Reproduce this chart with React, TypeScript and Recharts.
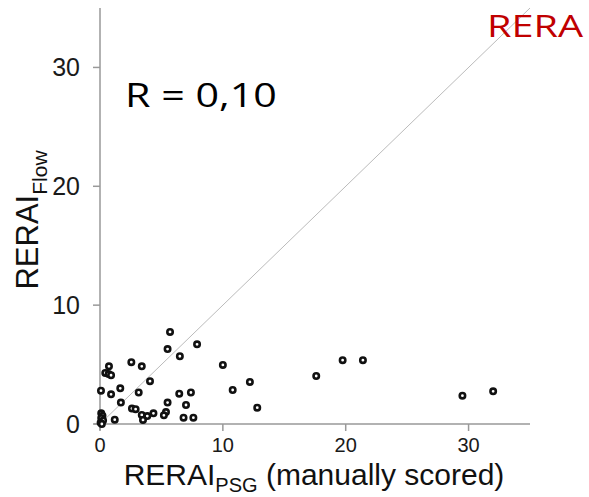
import { ScatterChart, Scatter, XAxis, YAxis, ReferenceLine, Label } from 'recharts';

// RERAI from PSG (manually scored) vs RERAI from flow
const rerPsg = [
  5.7, 5.5, 7.9, 6.5, 2.55, 3.4, 0.73, 0.43, 0.7, 0.9, 4.07, 1.65, 0.08, 0.9, 3.15, 6.45, 7.4,
  1.7, 5.5, 7.0, 2.6, 2.9, 4.35, 5.37, 5.2, 3.4, 3.85, 3.5, 1.2, 6.8, 7.6,
  0.1, 0.2, 0.1, 0.25, 0.05, 0.15,
  10.0, 10.8, 12.2, 12.8, 17.6, 19.75, 21.4, 29.5, 32.0,
];
const rerFlow = [
  7.75, 6.3, 6.7, 5.7, 5.2, 4.85, 4.85, 4.3, 4.2, 4.1, 3.6, 3.0, 2.8, 2.5, 2.65, 2.55, 2.65,
  1.8, 1.8, 1.6, 1.3, 1.25, 0.9, 1.0, 0.73, 0.76, 0.67, 0.34, 0.36, 0.53, 0.53,
  0.9, 0.7, 0.5, 0.3, 0.1, 0.0,
  4.97, 2.86, 3.54, 1.37, 4.04, 5.37, 5.37, 2.38, 2.75,
];
const axisTicks = [0, 10, 20, 30];
const axisMax = 35;

const points = rerPsg.map((x, i) => ({ x, y: rerFlow[i] }));

const font = 'Liberation Sans, Arial, sans-serif';

const Dot = (props: any) => (
  <circle cx={props.cx} cy={props.cy} r={2.7} fill="#fff" stroke="#111" strokeWidth={2.6} />
);

export default function App() {
  return (
    <div style={{ position: 'absolute', left: 0, top: 0, background: '#fff' }}>
      <ScatterChart width={589} height={497} margin={{ top: 8, right: 59, bottom: 0, left: 0 }}>
        <XAxis
          type="number"
          dataKey="x"
          domain={[0, axisMax]}
          ticks={axisTicks}
          height={73}
          stroke="#999"
          strokeWidth={1.5}
          tickSize={7}
          tickMargin={7}
          tick={{ fontFamily: font, fontSize: 20, fill: '#1a1a1a' }}
        >
          <Label
            content={() => (
              <text x={314} y={485} textAnchor="middle" fontFamily={font} fontSize={30} fill="#111">
                <tspan>RERAI</tspan>
                <tspan fontSize={20} dy={7}>PSG</tspan>
                <tspan dy={-7}> (manually scored)</tspan>
              </text>
            )}
          />
        </XAxis>
        <YAxis
          type="number"
          dataKey="y"
          domain={[0, axisMax]}
          ticks={axisTicks}
          width={100}
          stroke="#999"
          strokeWidth={1.5}
          tickSize={7}
          tickMargin={13}
          tick={{ fontFamily: font, fontSize: 25, fill: '#1a1a1a' }}
        >
          <Label
            content={() => (
              <text
                x={38}
                y={220}
                transform="rotate(-90 38 220)"
                textAnchor="middle"
                fontFamily={font}
                fontSize={31}
                fill="#111"
              >
                <tspan>RERAI</tspan>
                <tspan fontSize={21} dy={9}>Flow</tspan>
              </text>
            )}
          />
        </YAxis>
        <ReferenceLine
          segment={[{ x: 0, y: 0 }, { x: axisMax, y: axisMax }]}
          stroke="#bbb"
          strokeWidth={1}
        />
        {/* small overshoot of both axis lines past the origin */}
        <ReferenceLine segment={[{ x: 0, y: 0 }, { x: 0, y: -0.5 }]} ifOverflow="visible" stroke="#999" strokeWidth={1.5} />
        <ReferenceLine segment={[{ x: -0.5, y: 0 }, { x: 0, y: 0 }]} ifOverflow="visible" stroke="#999" strokeWidth={1.5} />
        <Scatter data={points} shape={Dot} isAnimationActive={false} />
        <ReferenceLine
          y={axisMax}
          stroke="none"
          label={() => (
            <g>
              <text transform="translate(125 107) scale(1.25 1)" fontFamily="Open Sans, sans-serif" fontSize={33} fill="#000">
                R = 0,10
              </text>
              <text transform="translate(487 37) scale(1.28 1)" fontFamily="Open Sans, sans-serif" fontSize={31} fill="#c00000">
                RERA
              </text>
            </g>
          )}
        />
      </ScatterChart>
    </div>
  );
}
